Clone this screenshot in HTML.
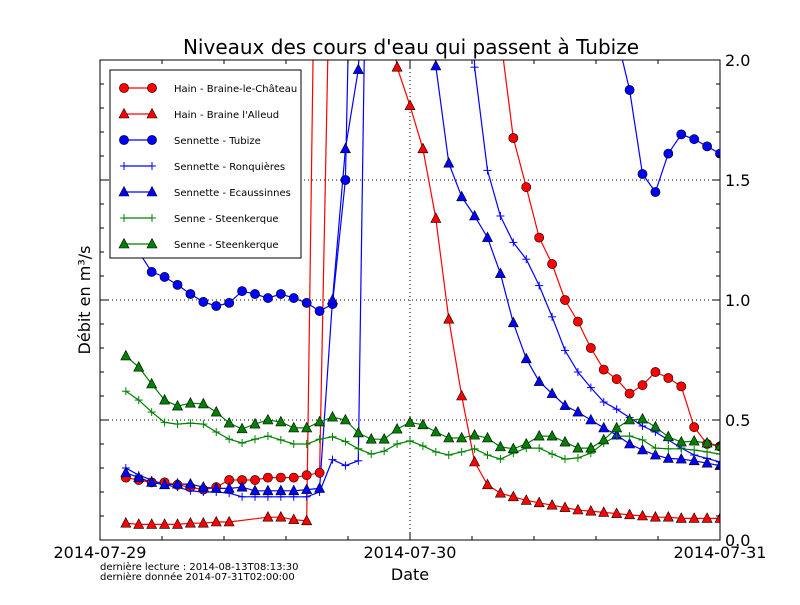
<!DOCTYPE html>
<html><head><meta charset="utf-8"><style>
body{margin:0;background:#fff;}
svg text{font-family:"DejaVu Sans","Liberation Sans",sans-serif;}
</style></head><body>
<svg id="s" width="800" height="600" xmlns="http://www.w3.org/2000/svg">
<rect width="800" height="600" fill="#fff"/>
<defs><clipPath id="c"><rect x="100" y="60" width="620" height="480"/></clipPath></defs>
<g id="grid" stroke="#000" stroke-width="1" stroke-dasharray="1,3">
<line x1="100" y1="420" x2="720" y2="420"/><line x1="100" y1="300" x2="720" y2="300"/><line x1="100" y1="180" x2="720" y2="180"/>
<line x1="410" y1="60" x2="410" y2="540"/>
</g>
<g id="series" clip-path="url(#c)"></g>
<g id="ticks" stroke="#000" stroke-width="1"></g>
<rect x="100" y="60" width="620" height="480" fill="none" stroke="#000" stroke-width="1"/>
<text x="411" y="54" font-size="20" text-anchor="middle">Niveaux des cours d'eau qui passent à Tubize</text>
<g font-size="16">
<text x="100" y="558" text-anchor="middle">2014-07-29</text>
<text x="410" y="558" text-anchor="middle">2014-07-30</text>
<text x="720" y="558" text-anchor="middle">2014-07-31</text>
<text x="725" y="546">0.0</text><text x="725" y="426">0.5</text><text x="725" y="306">1.0</text><text x="725" y="186">1.5</text><text x="725" y="66">2.0</text>
<text x="410" y="580" text-anchor="middle">Date</text>
<text transform="translate(90,300) rotate(-90)" text-anchor="middle">Débit en m³/s</text>
</g>
<text x="100" y="570" font-size="10">dernière lecture : 2014-08-13T08:13:30</text>
<text x="100" y="580" font-size="10">dernière donnée  2014-07-31T02:00:00</text>
<g id="legend">
<rect x="110" y="70" width="191" height="188" fill="#fff" stroke="#000" stroke-width="1"/>
</g>
</svg>
<script>
var NS="http://www.w3.org/2000/svg";
function el(p,t,a){var e=document.createElementNS(NS,t);for(var k in a)e.setAttribute(k,a[k]);p.appendChild(e);return e;}
function X(i){return 100+12.9167*i;}
function Y(v){return 540-v*240;}
var S=[
{c:"#f00",m:"o",d:[0.26,0.25,0.24,0.24,0.23,0.22,0.21,0.22,0.25,0.25,0.25,0.26,0.26,0.26,0.27,0.28,3,3,3,3,3,3,3,3,3,3,3,3,3,2.1,1.675,1.47,1.26,1.15,1.0,0.91,0.80,0.71,0.67,0.61,0.645,0.70,0.675,0.64,0.47,0.40,0.39]},
{c:"#f00",m:"^",d:[0.07,0.065,0.065,0.065,0.065,0.07,0.07,0.075,0.075,"s","s",0.095,0.095,0.085,0.08,4,4,4,4,4,2.4,1.97,1.81,1.63,1.34,0.92,0.60,0.325,0.23,0.195,0.18,0.165,0.155,0.145,0.135,0.125,0.12,0.115,0.11,0.105,0.1,0.095,0.095,0.09,0.09,0.09,0.09]},
{c:"#00f",m:"o",d:[1.3,1.2,1.117,1.096,1.063,1.025,0.992,0.975,0.988,1.037,1.025,1.008,1.025,1.008,0.988,0.954,0.983,1.5,4,5,5,5,5,5,5,5,5,5,5,5,5,5,5,5,5,5,5,5,2.1,1.875,1.525,1.45,1.61,1.69,1.67,1.64,1.61]},
{c:"#00f",m:"+",d:[0.30,0.27,0.25,0.23,0.22,0.205,0.2,0.2,0.195,0.18,0.18,0.18,0.18,0.18,0.18,0.2,0.335,0.31,0.33,4,4,4,4,4,4,4,4,1.97,1.54,1.35,1.24,1.17,1.06,0.93,0.79,0.70,0.635,0.575,0.545,0.51,0.475,0.45,0.417,0.383,0.354,0.34,0.325]},
{c:"#00f",m:"^",d:[0.28,0.26,0.24,0.23,0.233,0.233,0.22,0.215,0.215,0.22,0.205,0.205,0.205,0.205,0.21,0.215,1.0,1.63,1.96,3,3,3,3,3,1.975,1.57,1.43,1.35,1.26,1.11,0.905,0.755,0.66,0.61,0.56,0.533,0.5,0.467,0.437,0.4,0.375,0.354,0.34,0.337,0.33,0.32,0.31]},
{c:"#008000",m:"+",d:[0.62,0.583,0.533,0.49,0.483,0.487,0.483,0.45,0.42,0.404,0.42,0.433,0.417,0.4,0.4,0.42,0.43,0.41,0.38,0.358,0.37,0.4,0.413,0.392,0.367,0.354,0.367,0.38,0.354,0.337,0.362,0.383,0.383,0.358,0.337,0.342,0.362,0.404,0.433,0.433,0.417,0.383,0.38,0.38,0.375,0.367,0.358]},
{c:"#008000",m:"^",d:[0.767,0.72,0.65,0.583,0.558,0.57,0.567,0.533,0.487,0.463,0.483,0.5,0.492,0.467,0.467,0.492,0.512,0.5,0.446,0.42,0.42,0.462,0.49,0.48,0.45,0.425,0.425,0.437,0.425,0.388,0.38,0.4,0.433,0.433,0.408,0.383,0.383,0.417,0.467,0.5,0.504,0.471,0.43,0.408,0.412,0.404,0.392]}
];
function marker(g,m,x,y,c){
 if(m=="o")el(g,"circle",{cx:x,cy:y,r:4.6,fill:c,stroke:"#000","stroke-width":0.6});
 else if(m=="^")el(g,"polygon",{points:x+","+(y-5.5)+" "+(x-5)+","+(y+4)+" "+(x+5)+","+(y+4),fill:c,stroke:"#000","stroke-width":0.6});
 else{el(g,"line",{x1:x-4,y1:y,x2:x+4,y2:y,stroke:c,"stroke-width":1});el(g,"line",{x1:x,y1:y-4,x2:x,y2:y+4,stroke:c,"stroke-width":1});}
}
var G=document.getElementById("series");
S.forEach(function(s){
 var pts=[];
 s.d.forEach(function(v,k){if(typeof v=="number")pts.push([X(k+2),Y(v)]);});
 el(G,"polyline",{points:pts.map(function(p){return p[0].toFixed(1)+","+p[1].toFixed(1)}).join(" "),fill:"none",stroke:s.c,"stroke-width":1.2});
});
S.forEach(function(s){s.d.forEach(function(v,k){if(typeof v=="number"&&v<=2.05)marker(G,s.m,X(k+2),Y(v),s.c);});});
var T=document.getElementById("ticks");
for(var v=0;v<=20;v++){var y=540-v*24,L=(v%5==0)?8:4;el(T,"line",{x1:100,y1:y,x2:100+L,y2:y});el(T,"line",{x1:720,y1:y,x2:720-L,y2:y});}
for(var j=0;j<=10;j++){var x=100+62*j,L=(j%5==0)?8:4;el(T,"line",{x1:x,y1:540,x2:x,y2:540-L});el(T,"line",{x1:x,y1:60,x2:x,y2:60+L});}
var LG=document.getElementById("legend");
var names=["Hain - Braine-le-Château","Hain - Braine l'Alleud","Sennette - Tubize","Sennette - Ronquières","Sennette - Ecaussinnes","Senne - Steenkerque","Senne - Steenkerque"];
S.forEach(function(s,k){var y=88+26*k;el(LG,"line",{x1:124,y1:y,x2:152,y2:y,stroke:s.c,"stroke-width":1.2});marker(LG,s.m,124,y,s.c);marker(LG,s.m,152,y,s.c);var t=el(LG,"text",{x:174,y:y+4,"font-size":10});t.textContent=names[k];});
</script>
</body></html>
